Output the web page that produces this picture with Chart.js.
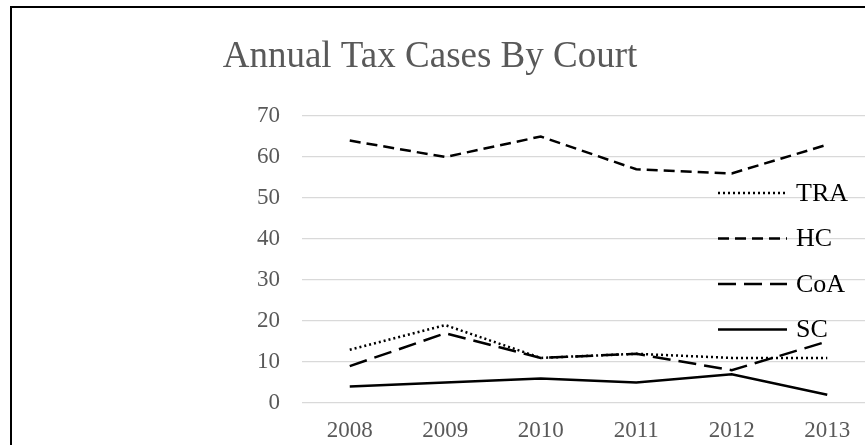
<!DOCTYPE html>
<html>
<head>
<meta charset="utf-8">
<script src="https://cdn.jsdelivr.net/npm/chart.js@4/dist/chart.umd.min.js"></script>
<style>
  html, body { margin: 0; padding: 0; background: #fff; overflow: hidden; }
  .wrap { position: absolute; left: 0; top: 0; width: 900px; height: 445px; }
  .frame { position: absolute; left: 10px; top: 6px; width: 1000px; height: 1000px;
           border: 2px solid #000; pointer-events: none; }
</style>
</head>
<body>
<div class="wrap"><canvas id="myChart"></canvas></div>
<div class="frame"></div>
<script>
const years = ['2008', '2009', '2010', '2011', '2012', '2013'];
const tra = [13, 19, 11, 12, 11, 11];
const hc = [64, 60, 65, 57, 56, 63];
const coa = [9, 17, 11, 12, 8, 15];
const sc = [4, 5, 6, 5, 7, 2];
const yTicks = [0, 10, 20, 30, 40, 50, 60, 70];

const serif = "'Liberation Serif', 'Times New Roman', serif";

// title + legend drawn by hand so they sit where the original has them
const extras = {
  id: 'extras',
  afterDraw(chart) {
    const ctx = chart.ctx;
    ctx.save();
    ctx.fillStyle = '#595959';
    ctx.font = '37px ' + serif;
    ctx.textAlign = 'center';
    ctx.textBaseline = 'alphabetic';
    ctx.fillText('Annual Tax Cases By Court', 430, 67);

    ctx.font = '26px ' + serif;
    ctx.textAlign = 'left';
    ctx.textBaseline = 'middle';
    chart.data.datasets.forEach((ds, i) => {
      const y = 193 + i * 45.5;
      ctx.strokeStyle = ds.borderColor;
      ctx.lineWidth = ds.borderWidth;
      ctx.setLineDash(ds.borderDash || []);
      ctx.beginPath();
      ctx.moveTo(718, y);
      ctx.lineTo(787, y);
      ctx.stroke();
      ctx.fillStyle = '#000';
      ctx.fillText(ds.label, 796, y + 1);
    });
    ctx.restore();
  }
};

function line(label, data, dash) {
  return {
    label: label,
    data: data,
    borderColor: '#000',
    borderWidth: 2.5,
    borderDash: dash,
    pointRadius: 0,
    tension: 0,
    fill: false
  };
}

new Chart('myChart', {
  type: 'line',
  data: {
    labels: years,
    datasets: [
      line('TRA', tra, [2, 3]),
      line('HC', hc, [11, 6]),
      line('CoA', coa, [18, 8]),
      line('SC', sc, [])
    ]
  },
  options: {
    responsive: true,
    maintainAspectRatio: false,
    animation: false,
    layout: { padding: { left: 0, right: 25, top: 116, bottom: 0 } },
    plugins: {
      legend: { display: false },
      title: { display: false },
      tooltip: { enabled: false }
    },
    scales: {
      x: {
        offset: true,
        grid: { display: false, drawTicks: false },
        border: { display: false },
        ticks: { color: '#595959', font: { family: serif, size: 23 }, padding: 14 },
        afterFit(axis) { axis.height = 42; }
      },
      y: {
        min: 0,
        max: 70,
        afterBuildTicks(axis) { axis.ticks = yTicks.map(v => ({ value: v })); },
        grid: { color: '#d9d9d9', lineWidth: 1.3, drawTicks: false },
        border: { display: false },
        ticks: { color: '#595959', font: { family: serif, size: 23 }, padding: 22 },
        afterFit(axis) { axis.width = 302; }
      }
    }
  },
  plugins: [extras]
});
</script>
</body>
</html>
